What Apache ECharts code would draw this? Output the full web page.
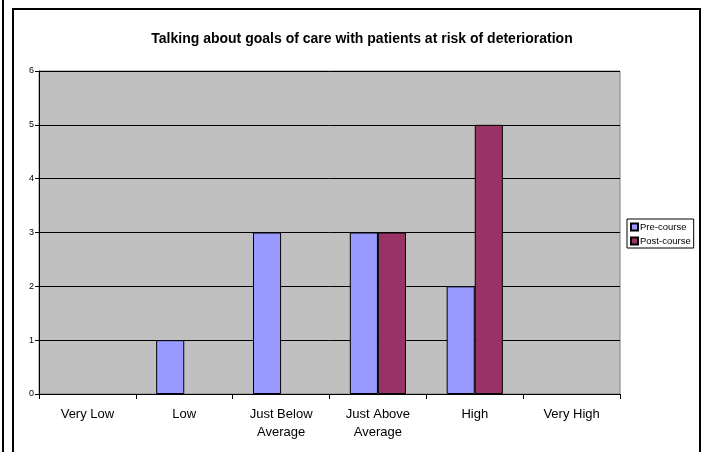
<!DOCTYPE html>
<html><head><meta charset="utf-8">
<script src="https://cdn.jsdelivr.net/npm/echarts@6/dist/echarts.min.js"></script>
<style>html,body{margin:0;padding:0;background:#fff}#c{width:705px;height:452px}</style>
</head><body><div id="c"></div>
<script>
const titleText = 'Talking about goals of care with patients at risk of deterioration';
const categories = ['Very Low', 'Low', 'Just Below\nAverage', 'Just Above\nAverage', 'High', 'Very High'];
const preCourse = [0, 1, 3, 3, 2, 0];
const postCourse = [0, 0, 0, 3, 5, 0];
const yTicks = [0, 1, 2, 3, 4, 5, 6];

function barData(arr) {
  return arr.map(v => v === 0 ? {value: v, itemStyle: {borderWidth: 0, opacity: 0}} : v);
}

const chart = echarts.init(document.getElementById('c'), null, {renderer: 'canvas'});
const font = 'Liberation Sans, Arial, sans-serif';
chart.setOption({
  animation: false,
  backgroundColor: '#fff',
  graphic: [
    {type: 'rect', shape: {x: 2, y: -5, width: 2, height: 470}, style: {fill: '#000'}, z: 10},
    {type: 'rect', shape: {x: 13, y: 9, width: 687, height: 460}, style: {fill: 'none', stroke: '#000', lineWidth: 2}, z: 10}
  ],
  title: {
    text: titleText, left: 357, top: 27, textAlign: 'center',
    textStyle: {fontFamily: font, fontSize: 14, fontWeight: 'bold', color: '#000'}
  },
  legend: {
    left: 627, top: 219, orient: 'vertical',
    borderColor: '#000', borderWidth: 1, padding: [3, 3, 2, 3],
    itemWidth: 7, itemHeight: 7, itemGap: 4,
    icon: 'rect',
    textStyle: {fontFamily: font, fontSize: 9.5, color: '#000', padding: [0, 0, 0, -3]},
    data: ['Pre-course', 'Post-course']
  },
  grid: {
    left: 39, right: 85, top: 71, bottom: 58,
    show: true, backgroundColor: '#C0C0C0', borderColor: '#808080', borderWidth: 1
  },
  xAxis: {
    type: 'category', data: categories,
    axisLine: {lineStyle: {color: '#000', width: 1}},
    axisTick: {show: true, length: 5, lineStyle: {color: '#000'}},
    axisLabel: {fontFamily: font, fontSize: 13, color: '#000', margin: 11, lineHeight: 18, interval: 0}
  },
  yAxis: {
    type: 'value', min: 0, max: 6, interval: 1,
    axisLine: {show: true, lineStyle: {color: '#000'}},
    axisTick: {show: true, length: 4, lineStyle: {color: '#000'}},
    axisLabel: {fontFamily: font, fontSize: 9, color: '#000', margin: 5,
      formatter: v => yTicks.includes(v) ? String(v) : ''},
    splitLine: {show: true, lineStyle: {color: '#000', width: 1}}
  },
  series: [
    {name: 'Pre-course', type: 'bar', data: barData(preCourse), barGap: '0%', barCategoryGap: '42%',
     itemStyle: {color: '#9999FF', borderColor: '#000', borderWidth: 1}},
    {name: 'Post-course', type: 'bar', data: barData(postCourse), barGap: '0%', barCategoryGap: '42%',
     itemStyle: {color: '#993366', borderColor: '#000', borderWidth: 1}}
  ]
});
</script></body></html>
